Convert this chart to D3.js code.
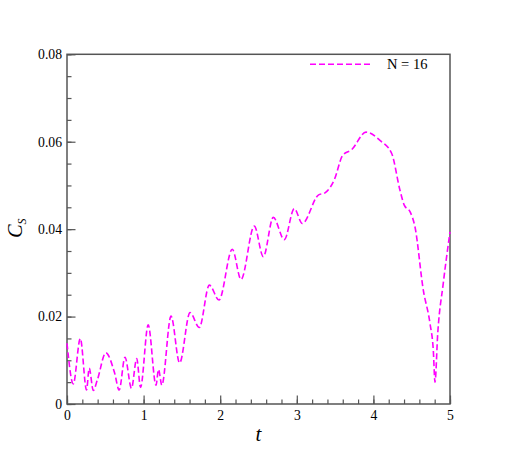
<!DOCTYPE html>
<meta charset="utf-8">
<style>
body { margin: 0; background: #fff; }
svg { display: block; }
.axis path { display: none; }
.axis line { stroke: #555; stroke-width: 1.2; }
.axis text { font-family: "Liberation Serif", serif !important; font-size: 13.7px !important; fill: #000; }
</style>
<body></body>
<script src="https://cdnjs.cloudflare.com/ajax/libs/d3/7.8.5/d3.min.js"></script>
<script>
// time samples (t) and Cs values
var tValues = [0.00, 0.082, 0.174, 0.255, 0.29, 0.343, 0.396, 0.507, 0.62, 0.681,
  0.757, 0.842, 0.91, 0.96, 1.06, 1.162, 1.195, 1.238, 1.358, 1.47,
  1.606, 1.727, 1.858, 1.984, 2.158, 2.272, 2.445, 2.563, 2.693, 2.837,
  2.967, 3.072, 3.281, 3.368, 3.492, 3.599, 3.717, 3.903, 4.086, 4.239,
  4.347, 4.403, 4.478, 4.543, 4.651, 4.739, 4.782, 4.804, 4.84, 4.912, 5.0];
var csValues = [0.0139, 0.0046, 0.0150, 0.0032, 0.0082, 0.0031, 0.0055, 0.0117, 0.0072, 0.0032,
  0.0107, 0.0036, 0.0104, 0.0038, 0.0181, 0.0043, 0.0079, 0.0043, 0.0201, 0.0094,
  0.0209, 0.0175, 0.0272, 0.0238, 0.0354, 0.0285, 0.0407, 0.0337, 0.0427, 0.0376,
  0.0447, 0.0413, 0.0478, 0.0483, 0.0514, 0.0569, 0.0582, 0.0622, 0.0603, 0.0573,
  0.0489, 0.0455, 0.0440, 0.0405, 0.0261, 0.0184, 0.0123, 0.0050, 0.0162, 0.0276, 0.0394];
var xTicks = [0, 1, 2, 3, 4, 5];
var yTicks = [0, 0.02, 0.04, 0.06, 0.08];
var legendLabel = "N = 16";

var serif = "Liberation Serif";

var margin = {top: 54.3, right: 62, bottom: 51, left: 67},
    width = 512 - margin.left - margin.right,
    height = 455 - margin.top - margin.bottom;

var x = d3.scaleLinear().domain([0, 5]).range([0, width]);
var y = d3.scaleLinear().domain([0, 0.08]).range([height, 0]);

var svg = d3.select("body").append("svg")
    .attr("width", 512)
    .attr("height", 455)
  .append("g")
    .attr("transform", "translate(" + margin.left + "," + margin.top + ")");

// minor ticks
svg.append("g")
    .attr("class", "axis")
    .attr("transform", "translate(0," + height + ")")
    .call(d3.axisBottom(x).tickValues(d3.range(0, 5.01, 0.2)).tickSizeInner(-4.5).tickSizeOuter(0).tickFormat(""));
svg.append("g")
    .attr("class", "axis")
    .call(d3.axisLeft(y).tickValues(d3.range(0, 0.0801, 0.005)).tickSizeInner(-4.5).tickSizeOuter(0).tickFormat(""));

// major ticks with labels
svg.append("g")
    .attr("class", "axis")
    .attr("transform", "translate(0," + height + ")")
    .call(d3.axisBottom(x).tickValues(xTicks).tickSizeInner(-8.5).tickSizeOuter(0).tickPadding(6).tickFormat(d3.format("d")));
svg.append("g")
    .attr("class", "axis")
    .call(d3.axisLeft(y).tickValues(yTicks).tickSizeInner(-8.5).tickSizeOuter(0).tickPadding(5)
      .tickFormat(function(d) { return d === 0 ? "0" : d3.format(".2f")(d); }));

// frame
svg.append("rect")
    .attr("width", width)
    .attr("height", height)
    .attr("fill", "none")
    .attr("stroke", "#555")
    .attr("stroke-width", 1.5);

var data = tValues.map(function(t, i) { return {t: t, v: csValues[i]}; });

var line = d3.line()
    .x(function(d) { return x(d.t); })
    .y(function(d) { return y(d.v); })
    .curve(d3.curveMonotoneX);

svg.append("path")
    .datum(data)
    .attr("fill", "none")
    .attr("stroke", "#ff00ff")
    .attr("stroke-width", 1.6)
    .attr("stroke-dasharray", "6,3")
    .attr("d", line);

// legend
svg.append("line")
    .attr("x1", 243).attr("x2", 306)
    .attr("y1", 10).attr("y2", 10)
    .attr("stroke", "#ff00ff")
    .attr("stroke-width", 1.6)
    .attr("stroke-dasharray", "6,3");
svg.append("text")
    .attr("x", 320).attr("y", 15)
    .style("font-family", serif)
    .style("font-size", "14.5px")
    .text(legendLabel);

// axis titles
svg.append("text")
    .attr("x", x(2.5)).attr("y", height + 37)
    .attr("text-anchor", "middle")
    .style("font-family", serif)
    .style("font-style", "italic")
    .style("font-size", "21px")
    .text("t");

var yt = svg.append("text")
    .attr("transform", "translate(-45," + (y(0.04) - 1) + ") rotate(-90)")
    .attr("text-anchor", "middle")
    .style("font-family", serif)
    .style("font-style", "italic")
    .style("font-size", "20px");
yt.append("tspan").text("C");
yt.append("tspan").attr("dy", 4).style("font-size", "12px").text("S");
</script>
